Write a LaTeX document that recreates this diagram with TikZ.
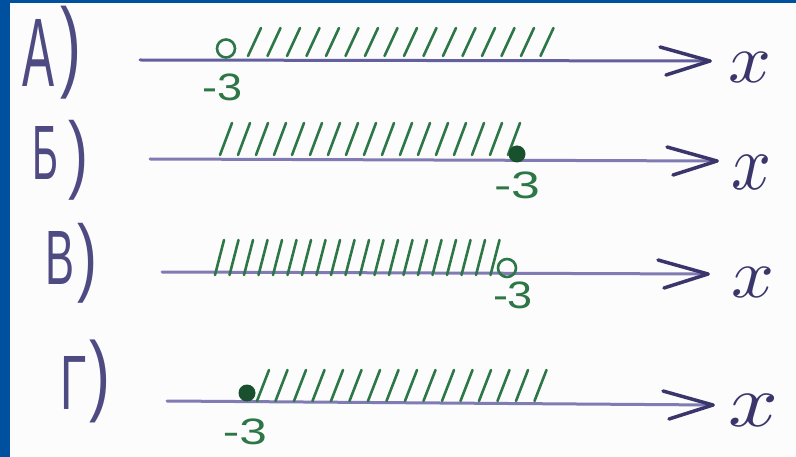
\documentclass[tikz,border=0pt]{standalone}
\usepackage{fontspec}
\usepackage{graphicx}
\setmainfont{Liberation Sans}
\definecolor{bgblue}{RGB}{0,80,160}
\definecolor{paper}{RGB}{252,252,253}
\definecolor{ink}{RGB}{78,74,130}
\definecolor{axis}{RGB}{128,123,178}
\definecolor{axisdark}{RGB}{100,96,158}
\definecolor{tipink}{RGB}{58,54,108}
\definecolor{hgreen}{RGB}{45,118,70}
\definecolor{dgreen}{RGB}{25,80,45}
\tikzset{
  axisline/.style={line width=3pt, color=axis, line cap=round},
  barb/.style={line width=3.5pt, color=tipink, line cap=round},
  hatchline/.style={line width=2.6pt, color=hgreen, line cap=round},
  opendot/.style={circle, line width=2.6pt, draw=hgreen, minimum size=18pt, inner sep=0pt},
  fulldot/.style={circle, fill=dgreen, minimum size=17pt, inner sep=0pt},
  lbl/.style={inner sep=0pt, text=ink},
  num/.style={inner sep=0pt, text=hgreen},
  xlbl/.style={inner sep=0pt, text=tipink}
}
\begin{document}
\begin{tikzpicture}[x=1pt, y=-1pt]
\fill[bgblue] (0,0) rectangle (796,457);
\fill[paper] (10,3) rectangle (796,457);
\useasboundingbox (0,0) rectangle (796,457);

% ---- labels A) Б) В) Г)
\node[lbl] (la) at (39,53) {\resizebox*{32pt}{67pt}{А}};
\node[lbl] (pa) at (71,53) {\resizebox*{21pt}{93pt}{)}};
\node[lbl] (lb) at (45,153) {\resizebox*{26pt}{53pt}{Б}};
\node[lbl] (pb) at (78,160) {\resizebox*{20pt}{80pt}{)}};
\node[lbl] (lv) at (60,258) {\resizebox*{29pt}{53pt}{В}};
\node[lbl] (pv) at (87,263) {\resizebox*{20pt}{80pt}{)}};
\node[lbl] (lg) at (74,383) {\resizebox*{26pt}{53pt}{Г}};
\node[lbl] (pg) at (100,381) {\resizebox*{21pt}{83pt}{)}};

% ---- axes
\coordinate (a0) at (140,60);  \coordinate (a1) at (710,61);
\coordinate (b0) at (150,159); \coordinate (b1) at (717,161);
\coordinate (v0) at (162,272); \coordinate (v1) at (708,274);
\coordinate (g0) at (167,401); \coordinate (g1) at (713,405);
\draw[axisline, color=axisdark] (a0) -- (a1);
\draw[axisline] (b0) -- (b1);
\draw[axisline] (v0) -- (v1);
\draw[axisline] (g0) -- (g1);
\foreach \t in {a1,b1,v1,g1}{
  \draw[barb] (\t) -- ++(-50,-14);
  \draw[barb] (\t) -- ++(-44,14);
}

% ---- x labels
\node[xlbl] (xa) at (750,67)  {\resizebox*{43pt}{30pt}{$x$}};
\node[xlbl] (xb) at (751,172) {\resizebox*{40pt}{34pt}{$x$}};
\node[xlbl] (xv) at (753,282) {\resizebox*{43pt}{30pt}{$x$}};
\node[xlbl] (xg) at (753,410) {\resizebox*{50pt}{32pt}{$x$}};

% ---- hatching
\foreach \i in {0,...,15} \draw[hatchline] ({248+\i*19.5},56) -- ++(13,-28);
\foreach \i in {0,...,16} \draw[hatchline] ({220+\i*18},155) -- ++(12,-32);
\foreach \i in {0,...,19} \draw[hatchline] ({215+\i*14.5},275) -- ++(9,-35);
\foreach \i in {0,...,15} \draw[hatchline] ({257+\i*18.5},401) -- ++(12,-31);

% ---- points
\node[opendot] (pta) at (226,48.5) {};
\node[fulldot] (ptb) at (517,154) {};
\node[opendot] (ptv) at (507,268) {};
\node[fulldot] (ptg) at (247,393) {};

% ---- -3 labels
\node[num] (na) at (223,87)  {\resizebox*{40pt}{27pt}{-3}};
\node[num] (nb) at (517,185) {\resizebox*{46pt}{27pt}{-3}};
\node[num] (nv) at (513,295) {\resizebox*{40pt}{27pt}{-3}};
\node[num] (ng) at (245,432) {\resizebox*{44pt}{26pt}{-3}};
\end{tikzpicture}
\end{document}
